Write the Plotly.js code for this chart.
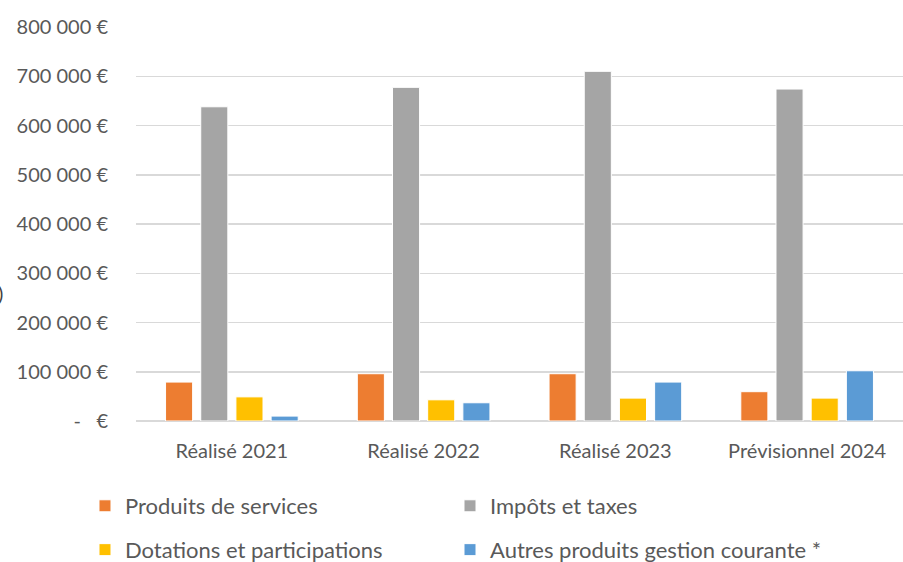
<!DOCTYPE html>
<html><head><meta charset="utf-8">
<script src="https://cdn.plot.ly/plotly-3.0.1.min.js"></script>
<style>html,body{margin:0;padding:0;background:#fff}</style>
</head><body>
<div id="chart" style="width:903px;height:562px"></div>
<script>
const categories = ["Réalisé 2021", "Réalisé 2022", "Réalisé 2023", "Prévisionnel 2024"];
const produitsServices = [79000, 96000, 96000, 59500];
const impotsTaxes = [638000, 677500, 710000, 674000];
const dotations = [49000, 43000, 46500, 46500];
const autresProduits = [10000, 37000, 79000, 102000];
const seriesNames = ["Produits de services", "Impôts et taxes", "Dotations et participations", "Autres produits gestion courante *"];
const tickValues = [0, 100000, 200000, 300000, 400000, 500000, 600000, 700000, 800000];
const tickLabels = ["-   €", "100 000 €", "200 000 €", "300 000 €", "400 000 €", "500 000 €", "600 000 €", "700 000 €", "800 000 €"];
const colors = ["#ED7D31", "#A5A5A5", "#FFC000", "#5B9BD5"];

const font = "Lato, 'Open Sans', sans-serif";
const seriesVals = [produitsServices, impotsTaxes, dotations, autresProduits];
const legendIds = ["legend", "legend2", "legend3", "legend4"];
const traces = seriesVals.map((v, i) => ({
  type: "bar", x: categories, y: v, name: seriesNames[i],
  marker: {color: colors[i], line: {color: "#ffffff", width: 1}},
  legend: legendIds[i], hoverinfo: "x+y+name"
}));

const legendCommon = {
  orientation: "h", xref: "paper", yref: "paper", xanchor: "left", yanchor: "middle",
  font: {family: font, size: 22, color: "#595959"},
  bgcolor: "rgba(0,0,0,0)", borderwidth: 0
};
const colX = [-0.0665, 0.4094];
const rowY = [-0.2157, -0.327];

const layout = {
  width: 903, height: 562,
  margin: {l: 136, r: 0, t: 27, b: 141, autoexpand: false},
  paper_bgcolor: "#ffffff", plot_bgcolor: "#ffffff",
  barmode: "group", bargap: 0.266, bargroupgap: 0.23,
  font: {family: font, color: "#595959"},
  xaxis: {
    type: "category", showgrid: false, zeroline: false, showline: false, ticks: "",
    tickfont: {family: font, size: 20, color: "#595959"}, ticklabelstandoff: 16
  },
  yaxis: {
    range: [0, 800000], tickvals: tickValues, ticktext: tickLabels,
    showgrid: true, gridcolor: "#D9D9D9", gridwidth: 1.5,
    zeroline: true, zerolinecolor: "#D9D9D9", zerolinewidth: 1.5,
    showline: false, ticks: "",
    tickfont: {family: font, size: 20, color: "#595959"}, ticklabelstandoff: 27
  },
  legend: Object.assign({}, legendCommon, {x: colX[0], y: rowY[0]}),
  legend2: Object.assign({}, legendCommon, {x: colX[1], y: rowY[0]}),
  legend3: Object.assign({}, legendCommon, {x: colX[0], y: rowY[1]}),
  legend4: Object.assign({}, legendCommon, {x: colX[1], y: rowY[1]}),
  showlegend: true,
  annotations: [{
    text: ")", xref: "paper", yref: "paper", x: -136/767, y: (421-293)/394,
    xanchor: "center", yanchor: "middle", showarrow: false,
    font: {family: font, size: 20, color: "#404040"}
  }]
};

Plotly.newPlot("chart", traces, layout, {displayModeBar: false, staticPlot: true});
</script>
</body></html>
